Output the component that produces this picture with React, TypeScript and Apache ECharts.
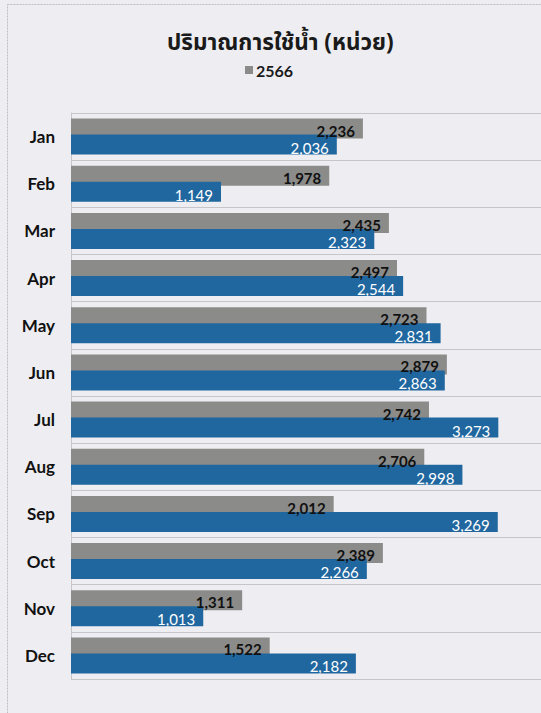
import React, { useEffect, useRef } from "react";
import * as echarts from "echarts";

const months = ["Jan", "Feb", "Mar", "Apr", "May", "Jun", "Jul", "Aug", "Sep", "Oct", "Nov", "Dec"];
const series2566 = [2236, 1978, 2435, 2497, 2723, 2879, 2742, 2706, 2012, 2389, 1311, 1522];
const series2567 = [2036, 1149, 2323, 2544, 2831, 2863, 3273, 2998, 3269, 2266, 1013, 2182];
const titleText = "ปริมาณการใช้น้ำ (หน่วย)";

const fmt = (p: any) => Number(p.value).toLocaleString("en-US");
const FONT = "Lato, 'Noto Sans', sans-serif";

export default function App() {
  const ref = useRef<HTMLDivElement>(null);
  useEffect(() => {
    if (!ref.current) return;
    const chart = echarts.init(ref.current, null, { renderer: "svg" });
    chart.setOption({
      animation: false,
      backgroundColor: "#eeeef2",
      title: {
        text: titleText,
        left: 167,
        top: 31,
        padding: 0,
        textStyle: {
          fontFamily: "'Noto Sans Thai', 'Noto Sans', sans-serif",
          fontSize: 22.5,
          fontWeight: "bold",
          color: "#1a1a1a",
        },
      },
      legend: {
        data: ["2566"],
        left: 245,
        top: 62,
        padding: 0,
        icon: "rect",
        itemWidth: 8,
        itemHeight: 8,
        itemGap: 10,
        textStyle: { fontFamily: FONT, fontSize: 16, fontWeight: "bold", color: "#1a1a1a", padding: [0, 0, 0, -2] },
      },
      graphic: [
        {
          type: "rect",
          shape: { x: 7.5, y: 4.5, width: 560, height: 720 },
          style: { fill: "none", stroke: "#bdbdc2", lineWidth: 1, lineDash: [2, 1] },
          silent: true,
        },
      ],
      grid: { left: 71, top: 113, right: 0, bottom: 34 },
      xAxis: {
        type: "value",
        min: 0,
        max: 3600,
        show: false,
        splitLine: { show: false },
      },
      yAxis: {
        type: "category",
        data: months,
        inverse: true,
        axisTick: { show: false },
        axisLine: { show: true, lineStyle: { color: "#c6c6ca", width: 1 } },
        splitLine: { show: true, lineStyle: { color: "#c6c6ca", width: 1 } },
        axisLabel: { fontFamily: FONT, fontSize: 17, fontWeight: "bold", color: "#111", margin: 16 },
      },
      series: [
        {
          name: "2566",
          type: "bar",
          data: series2566,
          barWidth: 20,
          barGap: "-20%",
          itemStyle: { color: "#8b8b89" },
          label: {
            show: true,
            position: "insideRight",
            distance: 8,
            offset: [0, 2],
            formatter: fmt,
            fontFamily: FONT,
            fontSize: 15,
            fontWeight: "bold",
            color: "#111",
          },
        },
        {
          name: "2567",
          type: "bar",
          data: series2567,
          barWidth: 20,
          barGap: "-20%",
          itemStyle: { color: "#21679f" },
          label: {
            show: true,
            position: "insideRight",
            distance: 8,
            offset: [0, 3],
            formatter: fmt,
            fontFamily: FONT,
            fontSize: 15,
            color: "#ffffff",
          },
        },
      ],
    });
    return () => chart.dispose();
  }, []);
  return (
    <div
      ref={ref}
      style={{ position: "fixed", left: 0, top: 0, width: 541, height: 713, background: "#eeeef2" }}
    />
  );
}
